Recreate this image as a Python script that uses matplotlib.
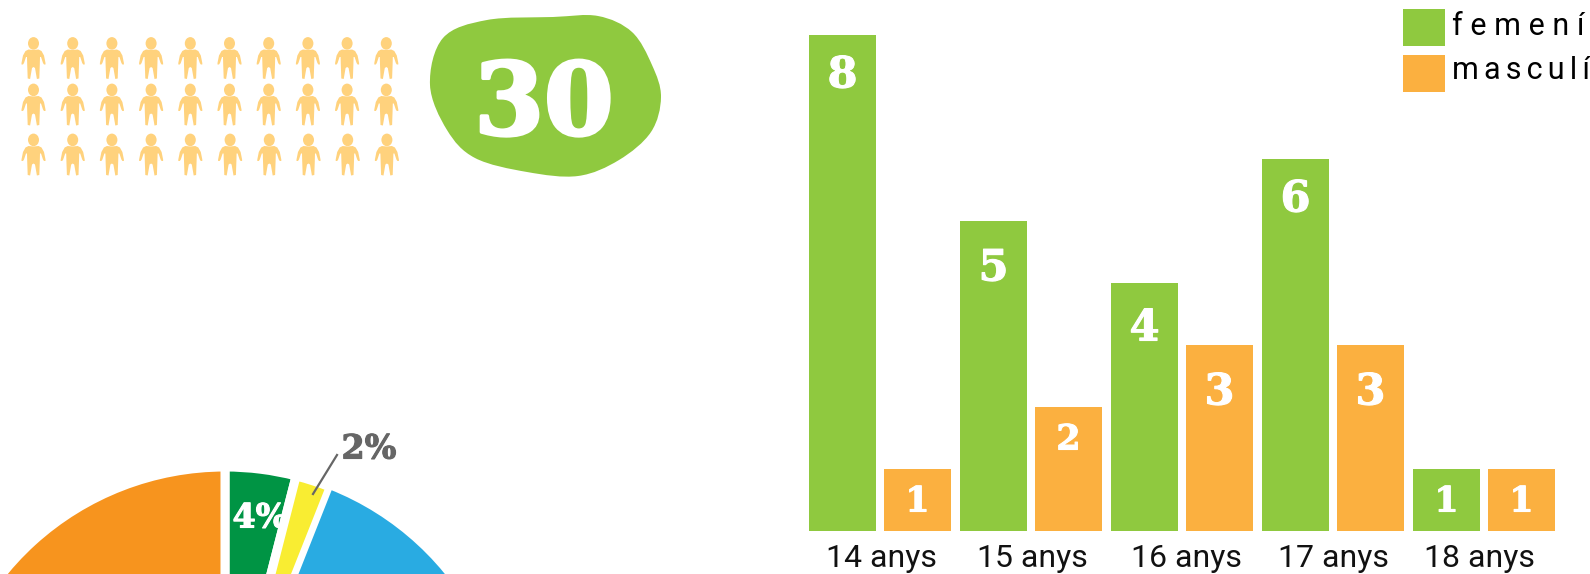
import numpy as np
import matplotlib
matplotlib.use('Agg')
import matplotlib.pyplot as plt
import matplotlib.patheffects as pe
from matplotlib.path import Path
from matplotlib.patches import PathPatch, Ellipse

W, H = 1590, 574

# data
ages = ['14 anys', '15 anys', '16 anys', '17 anys', '18 anys']
femeni = [8, 5, 4, 6, 1]
masculi = [1, 2, 3, 3, 1]
total_people = 30
pie_values = [4, 2, 47, 47]
pie_labels = ['4%', '2%']

GREEN = '#8FC93F'
ORANGE = '#FBB040'
PEOPLE = '#FFD27D'
pie_colors = ['#009444', '#F9ED32', '#29ABE2', '#F7941E']
SERIF = 'DejaVu Serif'

plt.rcParams['font.family'] = ['Roboto', 'DejaVu Sans']
fig = plt.figure(figsize=(W / 100, H / 100), dpi=100)


def place(left, top, right, bottom):
    # pixel box to figure fraction
    return [left / W, 1 - bottom / H, (right - left) / W, (bottom - top) / H]


def fat(size, color, stroke=0.8):
    return dict(family=SERIF, weight='bold', fontsize=size, color=color, ha='center', va='center',
                path_effects=[pe.withStroke(linewidth=stroke, foreground=color)])


# pie, cut by the bottom edge
R = 286
pie_ax = fig.add_axes(place(225 - R, 753 - R, 225 + R, 753 + R))
wedges, _ = pie_ax.pie(pie_values, colors=pie_colors, startangle=90, counterclock=False, radius=1,
                       wedgeprops=dict(edgecolor='white', linewidth=6.5))
wedges[2].set_linewidth(3.5)  # gap next to the yellow slice is narrower
pie_ax.set_xlim(-1, 1)
pie_ax.set_ylim(-1, 1)
pie_ax.set_aspect('equal')
pie_ax.axis('off')

# bars
bar_ax = fig.add_axes(place(800, 34.5, 1590, 530.5))
pos = np.arange(len(ages))
step = 75 / 151
bars_f = bar_ax.bar(pos, femeni, width=0.444, color=GREEN, label='f e m e n í')
bars_m = bar_ax.bar(pos + step, masculi, width=0.444, color=ORANGE, label='m\u2006a\u2006s\u2006c\u2006u\u2006l\u2006í')
bar_ax.set_xlim((800 - 842.5) / 151, (1590 - 842.5) / 151)
bar_ax.set_ylim(0, 8)
bar_ax.set_yticks([])
bar_ax.set_xticks([0.26, 1.26, 2.28, 3.25, 4.22])
bar_ax.set_xticklabels(ages, fontsize=23, color='#111111')
bar_ax.tick_params(axis='x', length=0, pad=10)
for s in bar_ax.spines.values():
    s.set_visible(False)
bar_ax.patch.set_alpha(0)

drop = {8: 41, 6: 41, 5: 48, 4: 46, 3: 48, 2: 33, 1: 33}
sizes = {8: 31, 6: 31, 5: 31, 4: 31, 3: 31, 2: 25, 1: 25}
for bars, vals in ((bars_f, femeni), (bars_m, masculi)):
    for b, v in zip(bars, vals):
        bar_ax.annotate(str(v), (b.get_x() + b.get_width() / 2, v), xytext=(0, -drop[v] * 0.72),
                        textcoords='offset points', **fat(sizes[v], 'white'))

fs = 22
leg = bar_ax.legend(loc='upper left', bbox_to_anchor=(1403 / W, 1 - 9 / H), bbox_transform=fig.transFigure,
                    frameon=False, fontsize=fs, handlelength=1.37, handleheight=1.48, handletextpad=0.23,
                    labelspacing=0.3, borderpad=0, borderaxespad=0)
for t, lift in zip(leg.get_texts(), (3, 5)):
    t.set_position((0, lift))

# overlay in pixels
ov = fig.add_axes([0, 0, 1, 1])
ov.set_xlim(0, W)
ov.set_ylim(H, 0)
ov.axis('off')
ov.patch.set_alpha(0)

# blob behind the 30
blob = np.array([(553, 17), (598, 16), (632, 32), (652, 65), (661, 97), (651, 132), (619, 160), (578, 176),
                 (527, 172), (475, 158), (447, 130), (430, 85), (443, 38), (487, 20)], float)
verts = [blob[0]]
codes = [Path.MOVETO]
n = len(blob)
for i in range(n):
    p0, p1, p2, p3 = blob[i - 1], blob[i], blob[(i + 1) % n], blob[(i + 2) % n]
    verts += [p1 + (p2 - p0) / 6, p2 - (p3 - p1) / 6, p2]
    codes += [Path.CURVE4] * 3
ov.add_patch(PathPatch(Path(verts, codes), fc=GREEN, ec='none'))
ov.text(544, 107, str(total_people), **fat(72, 'white', 2.5))

# little people
half = [(0, 12.5), (5, 12), (8, 13.5), (10.5, 18), (12, 25.5), (12, 27), (10.5, 27), (9.5, 25.5), (7.5, 19.5),
        (6.5, 19.5), (6.3, 27), (5.8, 41), (3.4, 41.5), (1.5, 30.5), (0, 29.5)]
body = np.array(half + [(-x, y) for x, y in half[-2:0:-1]] + [half[0]])
rows_y = [37.5, 84, 134]
for k in range(total_people):
    r, c = divmod(k, 10)
    cx = 33.5 + 39.2 * c + (0.6 if r == 2 else 0) * (c > 4)
    cy = rows_y[r]
    ov.add_patch(Ellipse((cx, cy + 5.9), 11, 12.6, fc=PEOPLE, ec='none'))
    ov.add_patch(PathPatch(Path(body + (cx, cy)), fc=PEOPLE, ec='none'))

# pie labels
ov.text(260, 518, pie_labels[0], **fat(24, 'white'))
ov.text(369, 449, pie_labels[1], **fat(24, '#666666'))
ov.plot([313, 337], [494, 455], color='#666666', lw=1.6)

fig.savefig('out.png', dpi=100)
